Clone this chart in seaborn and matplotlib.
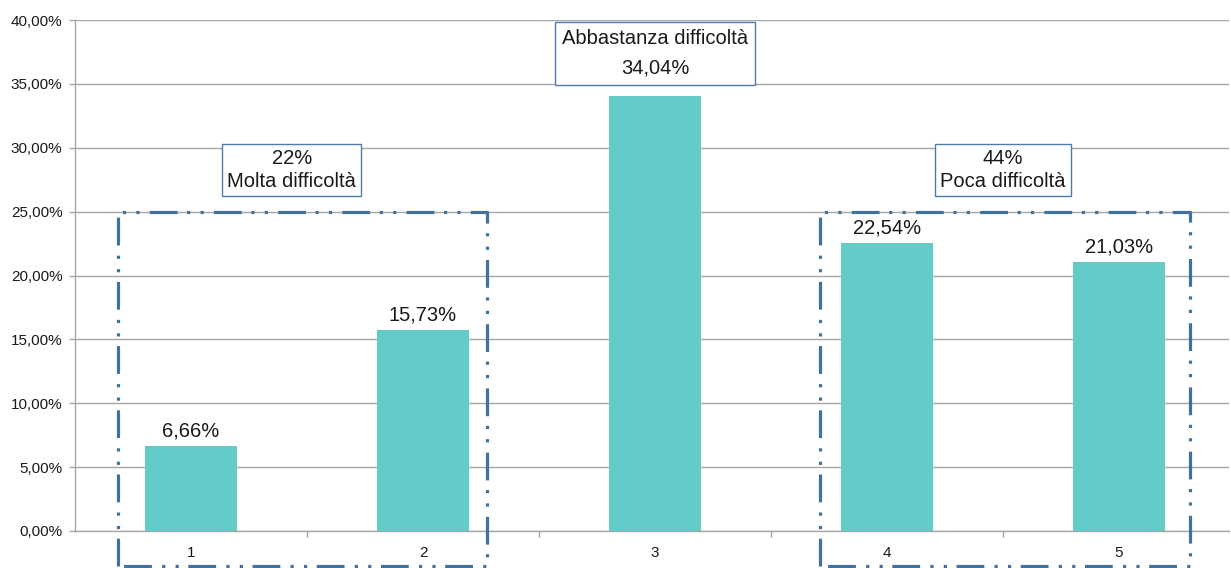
import matplotlib
matplotlib.use("Agg")
import matplotlib.pyplot as plt
from matplotlib.ticker import FuncFormatter, FixedLocator
import seaborn as sns
import pandas as pd

# Data
categories = ["1", "2", "3", "4", "5"]
values = [6.66, 15.73, 34.04, 22.54, 21.03]
group_low = "22%\nMolta difficoltà"
group_mid = "Abbastanza difficoltà\n34,04%"
group_high = "44%\nPoca difficoltà"

sns.set_theme(style="white")
plt.rcParams["font.family"] = ["Liberation Sans", "DejaVu Sans"]

BAR = "#63CBC8"
BOX = "#41719C"
GRID = "#A6A6A6"
TXT = "#1A1A1A"

df = pd.DataFrame({"cat": categories, "val": values})

fig = plt.figure(figsize=(12.31, 5.68), dpi=100)
ax = fig.add_axes([75 / 1231, 37 / 568, 1154 / 1231, 511 / 568])

sns.barplot(data=df, x="cat", y="val", color=BAR, width=0.4, saturation=1,
            linewidth=0, ax=ax, zorder=3)

ax.set_xlim(-0.5, 4.474)
ax.set_ylim(0, 40)
ax.set_xlabel("")
ax.set_ylabel("")

# axes styling
ax.yaxis.set_major_locator(FixedLocator([0, 5, 10, 15, 20, 25, 30, 35, 40]))
ax.yaxis.set_major_formatter(FuncFormatter(lambda v, p: f"{v:.2f}%".replace(".", ",")))
ax.grid(axis="y", color=GRID, linewidth=1, zorder=0)
ax.set_axisbelow(True)
for s in ["top", "right"]:
    ax.spines[s].set_visible(False)
for s in ["left", "bottom"]:
    ax.spines[s].set_color(GRID)
    ax.spines[s].set_linewidth(1)
ax.tick_params(axis="y", length=4, width=1, color=GRID, labelsize=11,
               labelcolor=TXT, pad=5, left=True)
ax.tick_params(axis="x", which="major", length=0, labelsize=11, labelcolor=TXT, pad=11)
ax.set_xticks([0.5, 1.5, 2.5, 3.5], minor=True)
ax.tick_params(axis="x", which="minor", length=4, width=1, color=GRID, bottom=True)

# value labels above bars
for i, v in enumerate(values):
    if i == 2:
        continue
    ax.annotate(f"{v:.2f}%".replace(".", ","), (i, v), xytext=(0, 4),
                textcoords="offset points", ha="center", va="bottom",
                fontsize=14.5, color=TXT, zorder=5)

# dash-dot-dot grouping frames (bottom edge sits just below the category labels)
dash = (0, (8.7, 3.0, 1.0, 3.2, 1.0, 3.2))
for x0, x1 in [(-0.315, 1.276), (2.711, 4.306)]:
    ax.plot([x0, x0, x1, x1, x0], [-2.75, 25, 25, -2.75, -2.75], color=BOX, lw=2.3,
            linestyle=dash, clip_on=False, zorder=4, solid_joinstyle="miter")

box = dict(boxstyle="square,pad=0.25", facecolor="white", edgecolor="#4F7BAB", linewidth=1)
ax.text(0.435, 28.25, group_low, ha="center", va="center", fontsize=14.5,
        color=TXT, bbox=box, linespacing=1.25, zorder=6)
ax.text(2.0, 37.4, group_mid, ha="center", va="center", fontsize=14.5,
        color=TXT, bbox=dict(box, boxstyle="square,pad=0.35"), linespacing=1.7, zorder=6)
ax.text(3.5, 28.25, group_high, ha="center", va="center", fontsize=14.5,
        color=TXT, bbox=box, linespacing=1.25, zorder=6)

fig.savefig("out.png", dpi=100)
